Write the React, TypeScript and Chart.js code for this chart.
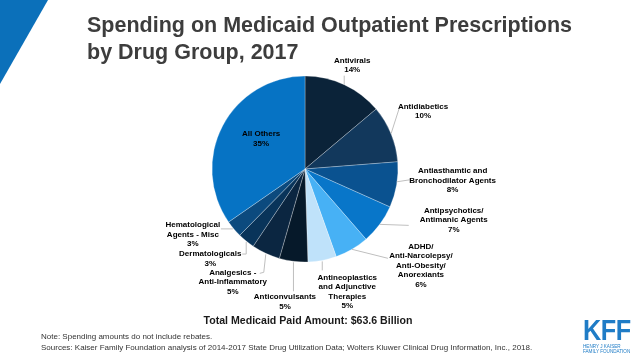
import React, { useEffect, useRef } from "react";
import { Chart, registerables } from "chart.js";

Chart.register(...registerables);

// ---- data ----
const categories = [
  "Antivirals",
  "Antidiabetics",
  "Antiasthamtic and Bronchodilator Agents",
  "Antipsychotics/ Antimanic Agents",
  "ADHD/ Anti-Narcolepsy/ Anti-Obesity/ Anorexiants",
  "Antineoplastics and Adjunctive Therapies",
  "Anticonvulsants",
  "Analgesics - Anti-Inflammatory",
  "Dermatologicals",
  "Hematological Agents - Misc",
  "All Others",
];
const categoryLines = [
  ["Antivirals"],
  ["Antidiabetics"],
  ["Antiasthamtic and", "Bronchodilator Agents"],
  ["Antipsychotics/", "Antimanic Agents"],
  ["ADHD/", "Anti-Narcolepsy/", "Anti-Obesity/", "Anorexiants"],
  ["Antineoplastics", "and Adjunctive", "Therapies"],
  ["Anticonvulsants"],
  ["Analgesics -", "Anti-Inflammatory"],
  ["Dermatologicals"],
  ["Hematological", "Agents - Misc"],
  ["All Others"],
];
const shares = [14, 10, 8, 7, 6, 5, 5, 5, 3, 3, 35];
const sliceColors = [
  "#0b2339",
  "#12385c",
  "#0a5290",
  "#0876c9",
  "#47b1f5",
  "#bfe2fa",
  "#06192a",
  "#0b2641",
  "#09345a",
  "#0c4a7e",
  "#0673c4",
];

const titleLines = ["Spending on Medicaid Outpatient Prescriptions", "by Drug Group, 2017"];
const totalText = "Total Medicaid Paid Amount: $63.6 Billion";
const noteLines = [
  "Note: Spending amounts do not include rebates.",
  "Sources: Kaiser Family Foundation analysis of 2014-2017 State Drug Utilization Data; Wolters Kluwer Clinical Drug Information, Inc., 2018.",
];

// ---- label layout (offsets from each slice's outer-edge midpoint) ----
const labelOffsets: [number, number][] = [
  [8, -24],
  [32, -27],
  [56, -14],
  [74, -14],
  [69, -3],
  [25, 17],
  [-8.5, 36],
  [-33, 19],
  [-36, 13],
  [-41, -4],
  [38.5, 8],
];
const leaderPaths: [number, number][][] = [
  [[0, 0], [0, -9]],
  [[0, 0], [8, -25]],
  [[0, -3], [13, -5]],
  [[0, 0], [29, 1]],
  [[0, 0], [36, 9]],
  [[0, 1], [0, 10]],
  [[0, 1], [0, 30]],
  [[0, 1], [-2, 19], [-6, 20]],
  [[0, 1], [0, 13], [-4, 13]],
  [[-1, 0], [-13, 0]],
  [],
];

const labelPlugin = {
  id: "sliceLabels",
  afterDatasetsDraw(chart: any) {
    const ctx = chart.ctx as CanvasRenderingContext2D;
    const meta = chart.getDatasetMeta(0);
    ctx.save();
    meta.data.forEach((arc: any, i: number) => {
      const p = arc.getProps(["x", "y", "startAngle", "endAngle", "outerRadius"], true);
      const mid = (p.startAngle + p.endAngle) / 2;
      const ex = p.x + Math.cos(mid) * p.outerRadius;
      const ey = p.y + Math.sin(mid) * p.outerRadius;
      const path = leaderPaths[i];
      if (path.length) {
        ctx.strokeStyle = "#bfbfbf";
        ctx.lineWidth = 1;
        ctx.beginPath();
        path.forEach(([dx, dy], k) => {
          if (k === 0) ctx.moveTo(ex + dx, ey + dy);
          else ctx.lineTo(ex + dx, ey + dy);
        });
        ctx.stroke();
      }
      const lines = [...categoryLines[i], shares[i] + "%"];
      ctx.fillStyle = "#000000";
      ctx.font = 'bold 8px "Liberation Sans", Arial, sans-serif';
      ctx.textAlign = "center";
      ctx.textBaseline = "middle";
      const [ox, oy] = labelOffsets[i];
      lines.forEach((t, k) => {
        ctx.fillText(t, ex + ox, ey + oy + k * 9.5);
      });
    });
    ctx.restore();
  },
};

export default function App() {
  const ref = useRef<HTMLCanvasElement | null>(null);
  useEffect(() => {
    if (!ref.current) return;
    const chart = new Chart(ref.current, {
      type: "pie",
      data: {
        labels: categories,
        datasets: [
          {
            data: shares,
            backgroundColor: sliceColors,
            borderColor: "rgba(255,255,255,0.35)",
            borderWidth: 0.8,
          },
        ],
      },
      options: {
        responsive: false,
        animation: false,
        layout: { padding: { left: 211.6, right: 241.6, top: 75.6, bottom: 97.6 } },
        plugins: {
          legend: { display: false },
          tooltip: { enabled: false },
          title: { display: false },
        },
      },
      plugins: [labelPlugin],
    });
    return () => chart.destroy();
  }, []);

  const font = '"Liberation Sans", Arial, sans-serif';
  return (
    <div
      style={{
        position: "absolute",
        left: 0,
        top: 0,
        width: 640,
        height: 360,
        background: "#ffffff",
        overflow: "hidden",
        fontFamily: font,
      }}
    >
      <svg width={640} height={360} style={{ position: "absolute", left: 0, top: 0 }}>
        <polygon points="0,0 48,0 0,84" fill="#0b70ba" />
      </svg>
      <canvas ref={ref} width={640} height={360} style={{ position: "absolute", left: 0, top: 0 }} />
      <div
        style={{
          position: "absolute",
          left: 87,
          top: 12,
          fontSize: 21.5,
          lineHeight: "27px",
          fontWeight: "bold",
          color: "#3d3d3d",
          whiteSpace: "nowrap",
        }}
      >
        {titleLines.map((t) => (
          <div key={t}>{t}</div>
        ))}
      </div>
      <div
        style={{
          position: "absolute",
          left: 308,
          top: 314,
          transform: "translateX(-50%)",
          fontSize: 10.6,
          lineHeight: "12px",
          fontWeight: "bold",
          color: "#1a1a1a",
          whiteSpace: "nowrap",
        }}
      >
        {totalText}
      </div>
      <div
        style={{
          position: "absolute",
          left: 41,
          top: 332,
          fontSize: 8,
          lineHeight: "10.5px",
          color: "#333333",
          whiteSpace: "nowrap",
        }}
      >
        {noteLines.map((t) => (
          <div key={t}>{t}</div>
        ))}
      </div>
      <div style={{ position: "absolute", left: 583, top: 316, color: "#1f7cc6" }}>
        <div
          style={{
            fontSize: 29,
            lineHeight: "29px",
            fontWeight: "bold",
            transform: "scaleX(0.87)",
            transformOrigin: "left top",
            letterSpacing: -0.5,
          }}
        >
          KFF
        </div>
        <div style={{ fontSize: 4.6, lineHeight: "5px", whiteSpace: "nowrap", marginTop: -1 }}>
          HENRY J KAISER
        </div>
        <div style={{ fontSize: 4.6, lineHeight: "5px", whiteSpace: "nowrap" }}>FAMILY FOUNDATION</div>
      </div>
    </div>
  );
}
